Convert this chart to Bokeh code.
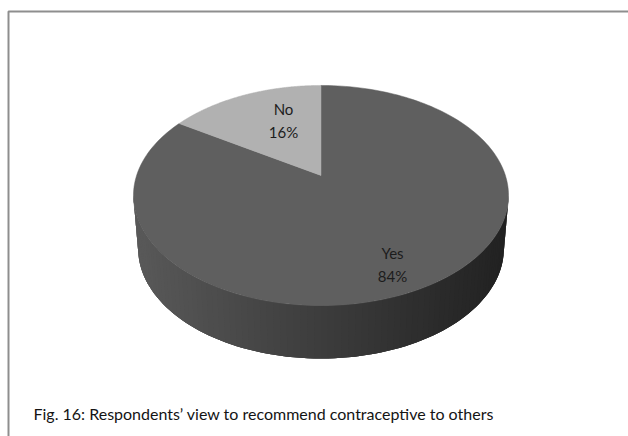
import numpy as np
from bokeh.plotting import figure
from bokeh.models import Range1d
from bokeh.core.properties import value
from bokeh.embed import file_html
from bokeh.resources import INLINE

# ---- data -------------------------------------------------------------
categories = ["Yes", "No"]
shares = [84, 16]
slice_colors = ["#5f5f5f", "#b1b1b1"]
caption = "Fig. 16: Respondents\u2019 view to recommend contraceptive to others"

# ---- canvas -----------------------------------------------------------
W, H = 628, 436
p = figure(width=W, height=H, x_range=Range1d(0, W), y_range=Range1d(H, 0),
           output_backend="svg", toolbar_location=None, min_border=0,
           x_axis_location=None, y_axis_location=None)
p.grid.visible = False
p.outline_line_color = None
p.background_fill_color = "white"
p.border_fill_color = "white"

# ---- 3D pie projection (tilted disc seen in perspective) ------------------
CX, CY = 320.5, 175.0      # projected disc centre
A, B, K = 184.4, 106.4, 0.1818
DEPTH = 53.0               # thickness of the disc
BOT_SCALE = 0.975          # bottom rim appears slightly narrower


def project(theta, r=1.0, drop=0.0, scale=1.0):
    """theta: clockwise from 12 o'clock, radians."""
    u = r * np.sin(theta)
    v = r * np.cos(theta)
    x = CX + A * scale * u / (1 + K * v)
    y = CY - B * v / (1 + K * v) + drop
    return x, y


total = float(sum(shares))
bounds = np.concatenate([[0.0], np.cumsum(shares) / total * 2 * np.pi])

# side wall: from the left silhouette, around the near edge, to the right one
t_right = np.arccos(-K)
t_left = 2 * np.pi - t_right
N = 90
ts = np.linspace(t_right, t_left, N + 1)
tx, ty = project(ts)
bx, by = project(ts, drop=DEPTH, scale=BOT_SCALE)

# solid base so no background shows between the shaded bands
p.patch(np.concatenate([tx, bx[::-1]]), np.concatenate([ty, by[::-1]]),
        fill_color="#3c3c3c", line_color=None)

c_left = np.array([0x5a, 0x5a, 0x5a])
c_right = np.array([0x22, 0x22, 0x22])
xmin, xmax = tx.min(), tx.max()
side_xs, side_ys, side_cols = [], [], []
for i in range(N):
    j = min(i + 2, N)      # each band overlaps its neighbour
    seg = slice(i, j + 1)
    side_xs.append(np.concatenate([tx[seg], bx[seg][::-1]]).tolist())
    side_ys.append(np.concatenate([ty[seg], by[seg][::-1]]).tolist())
    f = ((tx[i] + tx[i + 1]) / 2 - xmin) / (xmax - xmin)
    c = (c_left * (1 - f) + c_right * f).astype(int)
    side_cols.append("#%02x%02x%02x" % tuple(c))
# draw right-to-left so every band's overlap is covered by its left neighbour
p.patches(side_xs[::-1], side_ys[::-1], fill_color=side_cols[::-1],
          line_color=None)

# top faces of the slices
top_xs, top_ys = [], []
for i in range(len(shares)):
    arc = np.linspace(bounds[i], bounds[i + 1], 200)
    ax, ay = project(arc)
    top_xs.append(np.concatenate([[CX], ax]).tolist())
    top_ys.append(np.concatenate([[CY], ay]).tolist())
p.patches(top_xs, top_ys, fill_color=slice_colors, line_color=slice_colors,
          line_width=0.5)

# data labels (name and percentage)
label_anchor = {"Yes": (392.0, 264.0), "No": (283.0, 119.5)}
lx, ly, lt = [], [], []
for cat, s in zip(categories, shares):
    x0, y0 = label_anchor[cat]
    lx += [x0, x0]
    ly += [y0 - 11.5, y0 + 11.5]
    lt += [cat, "%d%%" % round(s / total * 100)]
p.text(x=lx, y=ly, text=lt, text_font=value("Lato"), text_font_size="15px",
       text_align="center", text_baseline="middle", text_color="#1c1c1c")

# chart frame
p.line(x=[8, 8, W], y=[H, 11, 11], line_color="#8e8e8e", line_width=2)

# caption
p.text(x=[33], y=[413], text=[caption], text_font=value("Lato"),
       text_font_size="16px", text_align="left", text_baseline="middle",
       text_color="#141414")

open("out.html", "w").write(file_html(p, INLINE))
